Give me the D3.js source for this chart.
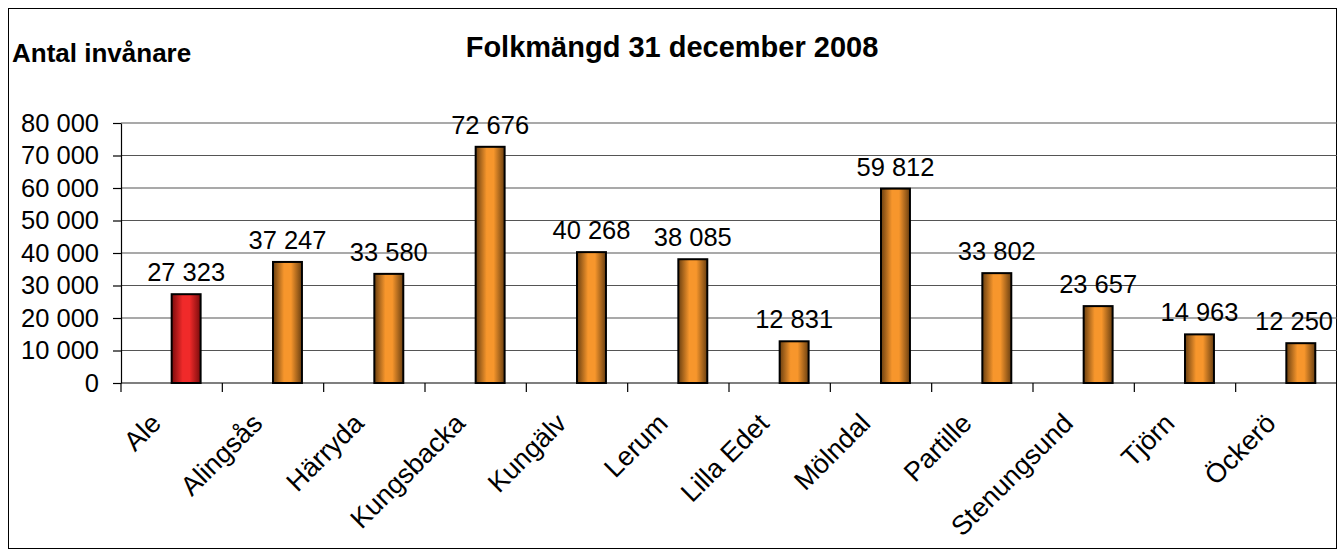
<!doctype html>
<html>
<head>
<meta charset="utf-8">
<script src="https://d3js.org/d3.v7.min.js"></script>
<style>
  body { margin: 0; background: #fff; }
  text { font-family: Arial, "Liberation Sans", sans-serif; fill: #000; }
</style>
</head>
<body>
<svg id="chart" width="1338" height="559"></svg>
<script>
// data
const kommuner = ["Ale", "Alingsås", "Härryda", "Kungsbacka", "Kungälv", "Lerum",
                  "Lilla Edet", "Mölndal", "Partille", "Stenungsund", "Tjörn", "Öckerö"];
const folkmangd = [27323, 37247, 33580, 72676, 40268, 38085, 12831, 59812, 33802, 23657, 14963, 12250];
const yTicks = [0, 10000, 20000, 30000, 40000, 50000, 60000, 70000, 80000];
const series = ["tom", "Folkmängd"];   // first slot is empty in the original sheet
const titleText = "Folkmängd 31 december 2008";
const yTitle = "Antal invånare";
const highlighted = "Ale";

const svg = d3.select('#chart');
const width = +svg.attr('width');
const height = +svg.attr('height');
const margin = {top: 123, right: 1, bottom: 176, left: 121};

const sv = d3.formatLocale({decimal: ",", thousands: " ", grouping: [3], currency: ["", " kr"]});
const fmt = sv.format(",d");

// outer frame
svg.append('rect')
  .attr('x', 8.5).attr('y', 8.5)
  .attr('width', 1328).attr('height', 540)
  .attr('fill', 'none').attr('stroke', '#000').attr('stroke-width', 1);

// gradients
const defs = svg.append('defs');
function grad(id, dark, light) {
  const g = defs.append('linearGradient').attr('id', id)
    .attr('x1', '0%').attr('x2', '100%').attr('y1', '0%').attr('y2', '0%');
  g.append('stop').attr('offset', '0%').attr('stop-color', dark);
  g.append('stop').attr('offset', '38%').attr('stop-color', light);
  g.append('stop').attr('offset', '62%').attr('stop-color', light);
  g.append('stop').attr('offset', '100%').attr('stop-color', dark);
}
grad('gOrange', '#6a3f10', '#f7962c');
grad('gRed', '#7a0c0c', '#f02a2a');

const x = d3.scaleBand().domain(kommuner).range([margin.left, width - margin.right]).padding(0);
const xs = d3.scaleBand().domain(series).range([0, x.bandwidth()]).paddingInner(0).paddingOuter(0.75);
const y = d3.scaleLinear().domain([0, 80000]).range([height - margin.bottom, margin.top]);

// grid
svg.append('g')
  .selectAll('line').data(yTicks.filter(d => d > 0)).join('line')
  .attr('x1', margin.left).attr('x2', width - margin.right)
  .attr('y1', d => y(d)).attr('y2', d => y(d))
  .attr('stroke', '#555').attr('stroke-width', 1.2);

// y axis
const yAxis = svg.append('g')
  .attr('transform', `translate(${margin.left},0)`)
  .call(d3.axisLeft(y).tickValues(yTicks).tickFormat(fmt).tickSize(8).tickSizeOuter(0).tickPadding(14));
yAxis.select('.domain').attr('stroke', '#000').attr('stroke-width', 1.2);
yAxis.selectAll('.tick line').attr('stroke', '#000').attr('stroke-width', 1.2);
yAxis.selectAll('text').attr('font-size', 25.5).attr('font-family', 'Arial, "Liberation Sans", sans-serif').attr('fill', '#000');

// x axis (ticks between categories)
const xAxisG = svg.append('g').attr('transform', `translate(0,${y(0)})`);
xAxisG.append('line')
  .attr('x1', margin.left).attr('x2', width - margin.right)
  .attr('stroke', '#000').attr('stroke-width', 1.2);
xAxisG.selectAll('line.tk').data(kommuner).join('line').attr('class', 'tk')
  .attr('x1', d => x(d)).attr('x2', d => x(d))
  .attr('y1', 0).attr('y2', 9)
  .attr('stroke', '#000').attr('stroke-width', 1.2);
xAxisG.selectAll('text').data(kommuner).join('text')
  .attr('transform', d => `translate(${x(d) + x.bandwidth() / 2 - 9},${42}) rotate(-45)`)
  .attr('text-anchor', 'end')
  .attr('font-size', 27)
  .text(d => d);

// bars
const rows = kommuner.map((k, i) => ({k, v: folkmangd[i]}));
svg.append('g').selectAll('rect').data(rows).join('rect')
  .attr('x', d => x(d.k) + xs(series[1]))
  .attr('width', xs.bandwidth())
  .attr('y', d => y(d.v))
  .attr('height', d => y(0) - y(d.v))
  .attr('fill', d => d.k === highlighted ? 'url(#gRed)' : 'url(#gOrange)')
  .attr('stroke', '#000').attr('stroke-width', 2);

// value labels (kept inside the plot on the right)
svg.append('g').selectAll('text').data(rows).join('text')
  .attr('x', d => x(d.k) + xs(series[1]) + xs.bandwidth() / 2)
  .attr('y', d => y(d.v) - 13)
  .attr('text-anchor', 'middle')
  .attr('font-size', 25.5)
  .text(d => fmt(d.v))
  .each(function() {
    const t = d3.select(this);
    const w = this.getComputedTextLength();
    const cx = +t.attr('x');
    const maxRight = width - margin.right - 4;
    if (cx + w / 2 > maxRight) t.attr('x', maxRight - w / 2);
  });

// titles
svg.append('text')
  .attr('x', 672).attr('y', 57)
  .attr('text-anchor', 'middle')
  .attr('font-size', 29).attr('font-weight', 'bold')
  .text(titleText);
svg.append('text')
  .attr('x', 12).attr('y', 62)
  .attr('font-size', 26).attr('font-weight', 'bold')
  .text(yTitle);
</script>
</body>
</html>
